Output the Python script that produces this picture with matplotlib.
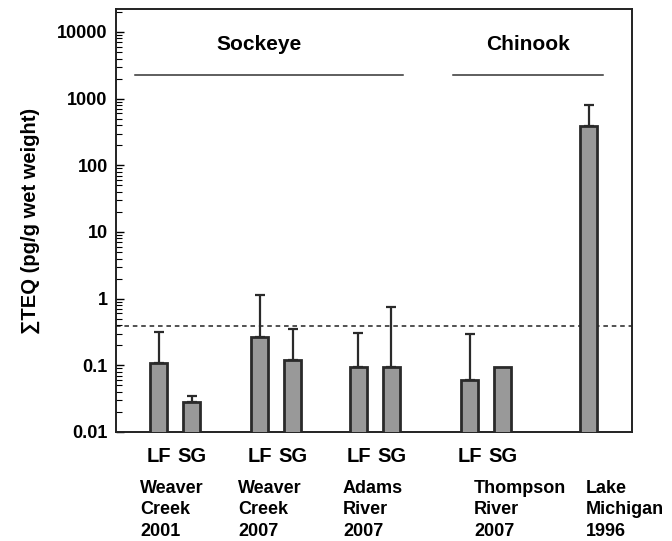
import numpy as np
import matplotlib.pyplot as plt

# sample groups (site / year) and fractions
sites = ['Weaver\nCreek\n2001', 'Weaver\nCreek\n2007', 'Adams\nRiver\n2007',
         'Thompson\nRiver\n2007', 'Lake\nMichigan\n1996']
fractions = ['LF', 'SG', 'LF', 'SG', 'LF', 'SG', 'LF', 'SG', '']
teq = [0.107, 0.028, 0.263, 0.12, 0.093, 0.094, 0.060, 0.094, 390]
teq_err_top = [0.316, 0.035, 1.14, 0.35, 0.31, 0.76, 0.30, None, 800]
threshold = 0.39

plt.rcParams['font.family'] = ['Liberation Sans', 'DejaVu Sans']
plt.rcParams['font.weight'] = 'bold'

fig = plt.figure(figsize=(6.72, 5.41), dpi=100)
ax = fig.add_axes([116/672, 109/541, 516/672, 423/541])

# bar positions (layout only)
xpos = np.array([1.3, 2.3, 4.35, 5.35, 7.35, 8.35, 10.72, 11.72, 14.33])
bw = 0.52

ax.bar(xpos, teq, width=bw, color='#999999', edgecolor='#2a2a2a', linewidth=2, zorder=3)

# only upper error bars
for x, v, e in zip(xpos, teq, teq_err_top):
    if e is None:
        continue
    ax.errorbar(x, v, yerr=[[0], [e - v]], fmt='none', ecolor='#2a2a2a',
                elinewidth=1.6, capsize=3.5, capthick=1.6, zorder=2)

ax.axhline(threshold, color='#222222', linestyle=(0, (3, 2.5)), linewidth=1.1, zorder=1)

ax.set_yscale('log')
ax.set_ylim(0.01, 10**4.345)
ax.set_xlim(0, 15.64)
ax.set_yticks([0.01, 0.1, 1, 10, 100, 1000, 10000])
ax.set_yticklabels(['0.01', '0.1', '1', '10', '100', '1000', '10000'], fontsize=13, fontweight='bold')
ax.tick_params(axis='y', which='major', direction='in', length=6, width=1, pad=6)
ax.tick_params(axis='y', which='minor', direction='in', length=4, width=0.8)
ax.set_xticks([])
for s in ax.spines.values():
    s.set_linewidth(1.4)
    s.set_color('#222222')

ax.set_ylabel('\u2211TEQ (pg/g wet weight)', fontsize=14.5, fontweight='bold', labelpad=12)

# species brackets
ax.plot([0.58, 8.7], [2240, 2240], color='#333333', lw=1.1, clip_on=False)
ax.text(4.35, 6500, 'Sockeye', ha='center', va='center', fontsize=15, fontweight='bold')
ax.plot([10.2, 14.75], [2240, 2240], color='#333333', lw=1.1, clip_on=False)
ax.text(12.48, 6500, 'Chinook', ha='center', va='center', fontsize=15, fontweight='bold')

# fraction labels under bars
for x, f in zip(xpos, fractions):
    if f:
        ax.text(x, -0.057, f, transform=ax.get_xaxis_transform(), ha='center', va='center',
                fontsize=14.5, fontweight='bold')

# site labels
site_x = [0.73, 3.7, 6.88, 10.85, 14.24]
for x, s in zip(site_x, sites):
    ax.text(x, -0.113, s, transform=ax.get_xaxis_transform(), ha='left', va='top',
            fontsize=13, fontweight='bold', linespacing=1.36)

fig.savefig('out.png', dpi=100)
